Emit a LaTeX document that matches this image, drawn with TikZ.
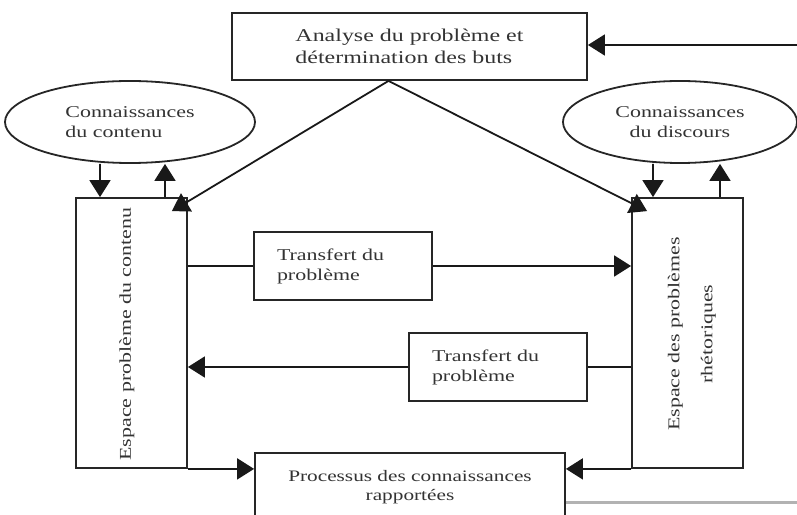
\documentclass[tikz,border=0pt]{standalone}
\usepackage{fontspec}
\setmainfont{Liberation Serif}[FakeStretch=1.33]
\usetikzlibrary{positioning,shapes,arrows,arrows.meta}

\begin{document}
\begin{tikzpicture}[x=1bp,y=-1bp]
\tikzstyle{every node}+=[inner sep=0pt, text=black!80]
\tikzstyle{boite}=[draw=black!85, line width=1.8bp, rectangle]
\tikzstyle{bulle}=[draw=black!85, line width=1.8bp, ellipse, minimum height=82bp]
\tikzstyle{trait}=[draw=black!90, line width=1.8bp]
\tikzstyle{fl}=[trait, -{Triangle[length=17bp,width=21bp]}]
\tikzstyle{txt}=[font=\fontsize{16.5bp}{20bp}\selectfont]
\useasboundingbox (0,0) rectangle (797,515);
% boites
\node [boite, minimum width=355bp, minimum height=67bp, align=left,
  font=\fontsize{18bp}{22bp}\selectfont] (analyse) at (409.5,46.5)
  {Analyse du problème et\\détermination des buts};
\node [bulle, txt, minimum width=250bp, align=left] (ccont) at (130,122)
  {Connaissances\\du contenu};
\node [bulle, txt, minimum width=234bp, align=center] (cdisc) at (680,122)
  {Connaissances\\du discours};
\node [boite, minimum width=111bp, minimum height=270bp] (epc) at (131.5,333) {};
\node [txt, rotate=90] (epclab) at (127,334) {Espace problème du contenu};
\node [boite, minimum width=111bp, minimum height=270bp] (epr) at (687.5,333) {};
\node [txt, rotate=90, align=center] (eprlab) at (692,334)
  {Espace des problèmes\\[13bp]rhétoriques};
\node [boite, txt, minimum width=178bp, minimum height=68bp, text width=132bp,
  align=left] (tr1) at (343,266) {Transfert du\\problème};
\node [boite, txt, minimum width=178bp, minimum height=68bp, text width=132bp,
  align=left] (tr2) at (498,367) {Transfert du\\problème};
\node [boite, minimum width=310bp, minimum height=68bp, anchor=north, align=center,
  font=\fontsize{16bp}{18.5bp}\selectfont] (proc) at (410,452)
  {Processus des connaissances\\rapportées};
% fleches
\coordinate (entree) at (797,45);
\draw [fl] (entree) -- (entree -| analyse.east);
\coordinate (sommet) at ([xshift=-21bp]analyse.south);
\draw [fl] (sommet) -- ([shift={(-16bp,-14bp)}]epc.north east);
\draw [fl] (sommet) -- ([shift={(16bp,-14bp)}]epr.north west);
\draw [fl] ([xshift=-30bp]ccont.south) -- ([xshift=-31.5bp]epc.north);
\draw [fl] ([xshift=33.5bp]epc.north) -- ([xshift=35bp]ccont.south);
\draw [fl] ([xshift=-27bp]cdisc.south) -- ([xshift=-34.5bp]epr.north);
\draw [fl] ([xshift=32.5bp]epr.north) -- ([xshift=40bp]cdisc.south);
\draw [trait] (epc.east |- tr1) -- (tr1.west);
\draw [fl] (tr1.east) -- (epr.west |- tr1);
\draw [trait] (epr.west |- tr2) -- (tr2.east);
\draw [fl] (tr2.west) -- (epc.east |- tr2);
\draw [fl] (epc.south east) -- (epc.south east -| proc.west);
\draw [fl] (epr.south west) -- (epr.south west -| proc.east);
\coordinate (sortie) at (797,502);
\draw [gray!60, line width=3bp] (sortie -| proc.east) -- (sortie);
\end{tikzpicture}
\end{document}
